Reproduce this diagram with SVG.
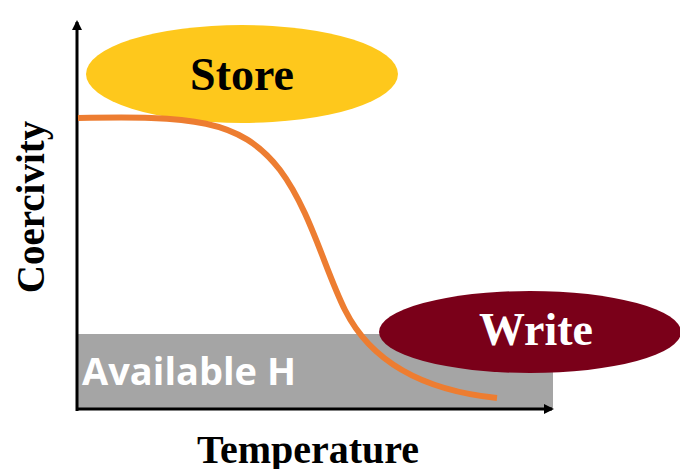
<svg xmlns="http://www.w3.org/2000/svg" width="680" height="469" viewBox="0 0 680 469">
<style>
.serif{font-family:"Liberation Serif","Times New Roman",serif;font-weight:bold}
.axis{stroke:#000;stroke-width:3;fill:none}
</style>
<defs>
<marker id="ah" markerWidth="10" markerHeight="10" refX="8" refY="5" orient="auto" markerUnits="userSpaceOnUse">
<path d="M0,0 L10,5 L0,10 Z" fill="#000"/>
</marker>
</defs>
<rect width="680" height="469" fill="#fff"/>
<g id="available">
<rect x="78" y="334" width="475" height="74" fill="#a5a5a5"/>
<text x="82" y="385" font-family="'Open Sans','Noto Sans',sans-serif" font-weight="bold" font-size="38" fill="#fff">Available H</text>
</g>
<g id="store">
<ellipse cx="242" cy="74" rx="156" ry="49" fill="#fec81c"/>
<text class="serif" x="242" y="90" font-size="46" text-anchor="middle" fill="#000">Store</text>
</g>
<g id="write">
<ellipse cx="530" cy="332" rx="151" ry="41" fill="#7a0019"/>
<text class="serif" x="536" y="345" font-size="46" text-anchor="middle" fill="#fff">Write</text>
</g>
<g id="connectors">
<path class="axis" d="M77,411 L77,22" marker-end="url(#ah)"/>
<path class="axis" d="M76,409 L552,409" marker-end="url(#ah)"/>
<path d="M78,118 C190,116 240,118 280,170 C310,210 325,270 345,310 C370,360 420,390 497,398" fill="none" stroke="#ed7d31" stroke-width="6"/>
</g>
<g id="labels">
<text class="serif" x="308" y="463" font-size="40" text-anchor="middle">Temperature</text>
<text class="serif" transform="translate(44,207) rotate(-90)" font-size="39" text-anchor="middle">Coercivity</text>
</g>
</svg>
